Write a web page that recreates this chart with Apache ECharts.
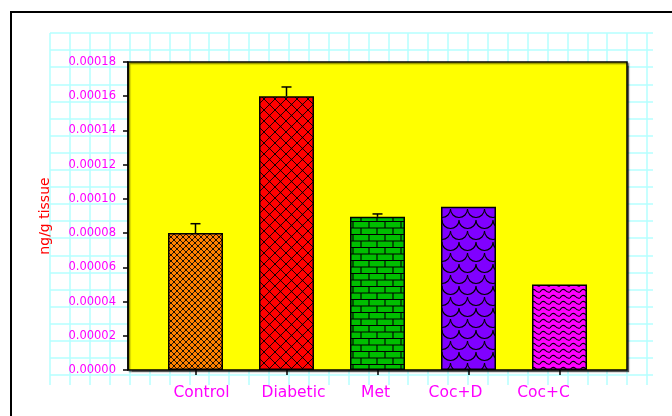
<!DOCTYPE html>
<html>
<head>
<meta charset="utf-8">
<script src="https://cdn.jsdelivr.net/npm/echarts@6/dist/echarts.min.js"></script>
<style>
html,body{margin:0;padding:0;background:#fff;}
#chart{width:672px;height:416px;}
</style>
</head>
<body>
<div id="chart"></div>
<script>
// ---- data ----
var categories = ['Control', 'Diabetic', 'Met', 'Coc+D', 'Coc+C'];
var values = [0.00008, 0.00016, 0.0000895, 0.0000954, 0.00005];
var errors = [0.0000055, 0.0000054, 0.0000017, 0, 0];
var yTicks = { min: 0, max: 0.00018, interval: 0.00002 };
var yTitle = 'ng/g tissue';

// ---- styles ----
var FONT = 'DejaVu Sans';
var labelShift = [6, 7, -2, -13, -16];

function makePattern(w, h, bg, draw) {
  var c = document.createElement('canvas');
  c.width = w; c.height = h;
  var ctx = c.getContext('2d');
  ctx.fillStyle = bg; ctx.fillRect(0, 0, w, h);
  ctx.strokeStyle = '#000'; ctx.fillStyle = '#000';
  draw(ctx, w, h);
  return { image: c, repeat: 'repeat' };
}
function crossHatch(ctx, w, h, lw, dot) {
  ctx.lineWidth = lw;
  ctx.beginPath();
  ctx.moveTo(0, 0); ctx.lineTo(w, h);
  ctx.moveTo(w, 0); ctx.lineTo(0, h);
  ctx.stroke();
  if (dot) {
    ctx.fillRect(w / 2 - dot / 2, h / 2 - dot / 2, dot, dot);
    ctx.fillRect(-dot / 2, -dot / 2, dot, dot);
    ctx.fillRect(w - dot / 2, -dot / 2, dot, dot);
    ctx.fillRect(-dot / 2, h - dot / 2, dot, dot);
    ctx.fillRect(w - dot / 2, h - dot / 2, dot, dot);
  }
}
var patterns = [
  makePattern(6, 6, '#FF8000', function (ctx, w, h) { crossHatch(ctx, w, h, 0.8, 1.4); }),
  makePattern(11, 11, '#FF0000', function (ctx, w, h) { crossHatch(ctx, w, h, 0.9, 1.3); }),
  makePattern(16, 13, '#00BE00', function (ctx, w, h) {
    ctx.lineWidth = 1.1;
    ctx.beginPath();
    ctx.moveTo(0, 0.5); ctx.lineTo(w, 0.5);
    ctx.moveTo(0, 7); ctx.lineTo(w, 7);
    ctx.moveTo(1, 0); ctx.lineTo(1, 7);
    ctx.moveTo(9, 7); ctx.lineTo(9, 13);
    ctx.stroke();
  }),
  makePattern(17, 22, '#8000FF', function (ctx, w, h) {
    ctx.lineWidth = 1.1;
    function scale(cx, cy) {
      ctx.beginPath();
      ctx.arc(cx, cy, 8.5, 0, Math.PI);
      ctx.stroke();
    }
    [[8.5, 0], [0, 11], [17, 11], [8.5, 22], [8.5, -22], [0, -11], [17, -11]].forEach(function (p) { scale(p[0], p[1]); });
  }),
  makePattern(10, 12, '#FF00FF', function (ctx, w, h) {
    ctx.lineWidth = 1.1;
    for (var r = 0; r < 2; r++) {
      var y = 4 + r * 6;
      ctx.beginPath();
      ctx.moveTo(0, y);
      ctx.quadraticCurveTo(2.5, y - 4, 5, y - 2);
      ctx.quadraticCurveTo(7.5, y + 1, 10, y);
      ctx.stroke();
    }
  })
];

var richLabels = {};
labelShift.forEach(function (s, i) {
  richLabels['l' + i] = {
    color: '#FF00FF', fontSize: 15.5, fontFamily: FONT,
    padding: s > 0 ? [0, 0, 0, 2 * s] : [0, -2 * s, 0, 0]
  };
});

var chart = echarts.init(document.getElementById('chart'), null, { renderer: 'canvas' });
var option = {
  backgroundColor: '#fff',
  animation: false,
  graphic: [{
    type: 'rect', z: -10, silent: true,
    shape: { x: 11, y: 12, width: 700, height: 450 },
    style: { fill: 'none', stroke: '#000', lineWidth: 2 }
  }],
  grid: [
    { left: 128, top: 62, width: 499, height: 308, show: true, z: 1,
      backgroundColor: '#FFFF00', borderColor: '#000', borderWidth: 1.5,
      shadowColor: 'rgba(0,0,0,0.45)', shadowOffsetX: 1.5, shadowOffsetY: 1.5, shadowBlur: 1 },
    { left: 150, top: 62, width: 455, height: 308, z: 2 },
    { left: 50, top: 33, width: 603, height: 352, z: 0 }
  ],
  xAxis: [
    { gridIndex: 0, type: 'value', show: false },
    { gridIndex: 1, type: 'category', data: categories, z: 3,
      axisLine: { show: false },
      axisTick: { show: true, alignWithLabel: true, length: 5, lineStyle: { color: '#000', width: 1.5 } },
      axisLabel: {
        margin: 15,
        formatter: function (v, i) { return '{l' + i + '|' + v + '}'; },
        rich: richLabels
      }
    },
    { gridIndex: 2, type: 'value', min: 0, max: 30.3, interval: 1, z: 0,
      axisLine: { show: false }, axisTick: { show: false }, axisLabel: { show: false },
      splitLine: { show: true, showMaxLine: false, lineStyle: { color: '#B4FFFF', width: 1.5 } } }
  ],
  yAxis: [
    { gridIndex: 0, type: 'value', min: yTicks.min, max: yTicks.max, interval: yTicks.interval, z: 3,
      name: yTitle, nameLocation: 'middle', nameRotate: 90, nameGap: 76,
      nameTextStyle: { color: '#FF0000', fontSize: 14, fontFamily: FONT },
      axisLine: { show: true, lineStyle: { color: '#000', width: 1.5 } },
      axisTick: { show: true, length: 5, lineStyle: { color: '#000', width: 1.5 } },
      axisLabel: { margin: 12, color: '#FF00FF', fontSize: 11.5, fontFamily: FONT,
        formatter: function (v) { return v.toFixed(5); } },
      splitLine: { show: false } },
    { gridIndex: 1, type: 'value', min: yTicks.min, max: yTicks.max, interval: yTicks.interval, show: false,
      splitLine: { show: false } },
    { gridIndex: 2, type: 'value', min: 0, max: 20.58, interval: 1, inverse: true, z: 0,
      axisLine: { show: false }, axisTick: { show: false }, axisLabel: { show: false },
      splitLine: { show: true, showMaxLine: false, lineStyle: { color: '#B4FFFF', width: 1.5 } } }
  ],
  series: [
    { type: 'bar', xAxisIndex: 1, yAxisIndex: 1, barWidth: 55, z: 3,
      data: values.map(function (v, i) {
        return { value: v, itemStyle: { color: patterns[i] } };
      }),
      itemStyle: { borderColor: '#000', borderWidth: 1.5 } },
    { type: 'custom', xAxisIndex: 1, yAxisIndex: 1, z: 4,
      data: categories.map(function (c, i) { return [i, values[i], errors[i]]; }),
      renderItem: function (params, api) {
        var e = api.value(2);
        if (!e) return null;
        var base = api.coord([api.value(0), api.value(1)]);
        var top = api.coord([api.value(0), api.value(1) + e]);
        var st = { stroke: '#000', lineWidth: 1.5 };
        return { type: 'group', children: [
          { type: 'line', shape: { x1: base[0], y1: base[1], x2: top[0], y2: top[1] }, style: st },
          { type: 'line', shape: { x1: top[0] - 5, y1: top[1], x2: top[0] + 5, y2: top[1] }, style: st }
        ] };
      } }
  ]
};
chart.setOption(option);
</script>
</body>
</html>
